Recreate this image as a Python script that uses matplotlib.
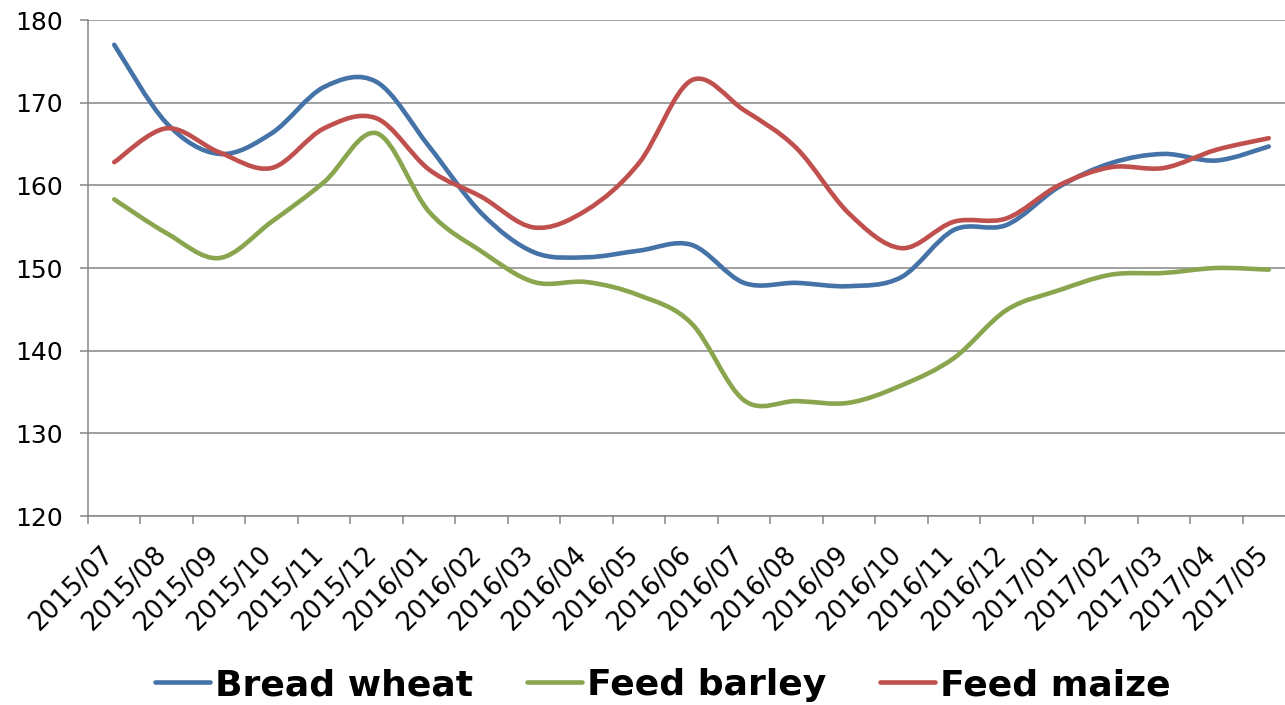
import matplotlib
matplotlib.use("Agg")
import matplotlib.pyplot as plt
import numpy as np
from matplotlib.path import Path
from matplotlib.patches import PathPatch
from matplotlib.lines import Line2D

months = ["2015/07", "2015/08", "2015/09", "2015/10", "2015/11", "2015/12",
          "2016/01", "2016/02", "2016/03", "2016/04", "2016/05", "2016/06",
          "2016/07", "2016/08", "2016/09", "2016/10", "2016/11", "2016/12",
          "2017/01", "2017/02", "2017/03", "2017/04", "2017/05"]

bread_wheat = [177.0, 167.5, 163.8, 166.3, 171.9, 172.5, 164.7, 156.6, 151.9,
               151.3, 152.1, 152.8, 148.2, 148.2, 147.8, 148.9, 154.6, 155.2,
               159.8, 162.7, 163.8, 163.0, 164.7]
feed_barley = [158.3, 154.2, 151.2, 155.6, 160.4, 166.3, 156.8, 152.0, 148.3,
               148.3, 146.7, 143.3, 134.0, 133.9, 133.7, 135.8, 139.1, 144.9,
               147.3, 149.2, 149.4, 150.0, 149.8]
feed_maize = [162.8, 166.9, 164.0, 162.1, 166.9, 168.1, 161.9, 158.6, 154.9,
              157.0, 162.7, 172.7, 169.1, 164.5, 156.6, 152.4, 155.6, 156.0,
              160.0, 162.2, 162.1, 164.3, 165.7]

series = [("Bread wheat", bread_wheat, "#4572A7"),
          ("Feed barley", feed_barley, "#89A54E"),
          ("Feed maize", feed_maize, "#C0504D")]


def smooth_path(x, y):
    """Excel-like smoothed line: cubic Bezier through every point."""
    n = len(x)
    verts = [(x[0], y[0])]
    codes = [Path.MOVETO]
    for i in range(n - 1):
        a = i - 1 if i > 0 else i
        b = i + 2 if i + 2 < n else i + 1
        c1 = (x[i] + (x[i + 1] - x[a]) / 6, y[i] + (y[i + 1] - y[a]) / 6)
        c2 = (x[i + 1] - (x[b] - x[i]) / 6, y[i + 1] - (y[b] - y[i]) / 6)
        verts += [c1, c2, (x[i + 1], y[i + 1])]
        codes += [Path.CURVE4] * 3
    return Path(verts, codes)


W, H = 1285, 705
fig = plt.figure(figsize=(W / 100, H / 100), dpi=100)
ax = fig.add_axes([88 / W, 1 - 516 / H, (1295 - 88) / W, (516 - 20) / H])

x = np.arange(len(months))
handles = []
for name, vals, col in series:
    ax.add_patch(PathPatch(smooth_path(x, np.asarray(vals, float)), fill=False,
                           edgecolor=col, lw=3.3, capstyle="round",
                           joinstyle="round", zorder=3))
    handles.append(Line2D([], [], color=col, lw=3.3, solid_capstyle="round"))

ax.set_xlim(-0.5, len(months) - 0.5)
ax.set_ylim(120, 180)
ax.set_yticks(np.arange(120, 181, 10))
ax.yaxis.grid(True, color="#868686", lw=1.1)
ax.set_axisbelow(True)

# labels hang from the category centres, ticks sit on the boundaries
ax.set_xticks(x - 0.08)
ax.set_xticklabels(months, rotation=45, ha="right", va="center",
                   rotation_mode="anchor")
ax.set_xticks(np.arange(-0.5, len(months), 1), minor=True)
ax.tick_params(axis="x", which="major", length=0, pad=25, labelsize=18.5)
ax.tick_params(axis="x", which="minor", length=5.5, width=1.1, color="#868686")
ax.tick_params(axis="y", length=6, width=1.1, color="#868686", pad=12,
               labelsize=18)

for side in ("top", "right"):
    ax.spines[side].set_visible(False)
for side in ("left", "bottom"):
    ax.spines[side].set_color("#868686")
    ax.spines[side].set_linewidth(1.1)

fig.legend(handles, [s[0] for s in series], loc="center",
           bbox_to_anchor=(663 / W, 1 - 685 / H), ncol=3, frameon=False,
           prop={"size": 26, "weight": "bold"}, handlelength=1.5,
           handletextpad=0.15, columnspacing=1.5)

fig.savefig("out.png", dpi=100)
